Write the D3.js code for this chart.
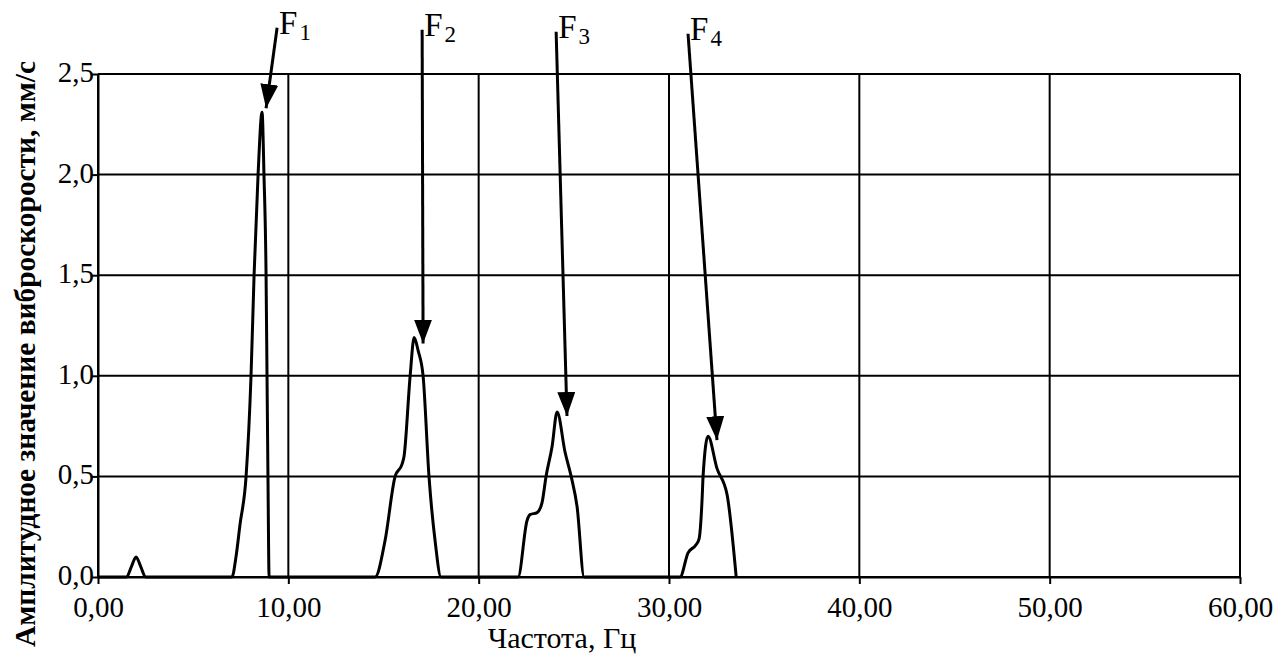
<!DOCTYPE html>
<html>
<head>
<meta charset="utf-8">
<script src="https://cdn.jsdelivr.net/npm/d3@7"></script>
<style>
  body { margin: 0; background: #fff; }
  svg { display: block; }
  text { font-family: "Liberation Serif", "Times New Roman", serif; fill: #000; }
</style>
</head>
<body>
<svg width="1282" height="657"></svg>
<script>
// spectrum (Hz, mm/s)
const freqHz = [0, 1.5, 1.75, 2.0, 2.25, 2.5,
  7.04, 7.25, 7.46, 7.78, 8.04, 8.20, 8.41, 8.62, 8.72, 8.83, 8.88, 8.93, 8.99,
  14.56, 15.08, 15.61, 15.97, 16.08, 16.40, 16.61, 16.82, 17.08, 17.39, 17.71, 18.02,
  22.07, 22.54, 22.70, 23.07, 23.33, 23.54, 23.86, 24.12, 24.54, 24.86, 25.17, 25.54,
  30.58, 31.00, 31.42, 31.58, 31.74, 31.79, 32.05, 32.52, 33.05, 33.53];
const ampMms = [0, 0, 0.05, 0.1, 0.05, 0,
  0, 0.1, 0.26, 0.5, 1.0, 1.5, 2.0, 2.31, 2.0, 1.5, 1.0, 0.5, 0,
  0, 0.18, 0.5, 0.56, 0.6, 1.0, 1.19, 1.125, 1.0, 0.5, 0.18, 0,
  0, 0.28, 0.31, 0.32, 0.37, 0.5, 0.65, 0.82, 0.62, 0.5, 0.35, 0,
  0, 0.12, 0.16, 0.19, 0.39, 0.5, 0.70, 0.54, 0.41, 0];

const xTicks = [0, 10, 20, 30, 40, 50, 60];
const xTickLabels = ["0,00", "10,00", "20,00", "30,00", "40,00", "50,00", "60,00"];
const yTicks = [0, 0.5, 1.0, 1.5, 2.0, 2.5];
const yTickLabels = ["0,0", "0,5", "1,0", "1,5", "2,0", "2,5"];

// peak markers: label, arrow start (above plot) and tip
const peakLabels = ["1", "2", "3", "4"];
const arrowFromHz = [9.41, 17.03, 24.07, 31.0];
const arrowFromV = [2.73, 2.72, 2.71, 2.70];
const arrowToHz = [8.83, 17.08, 24.64, 32.52];
const arrowToV = [2.33, 1.16, 0.80, 0.68];

const svg = d3.select("svg");
const plotL = 98, plotR = 1240, plotT = 74, plotB = 577;

const x = d3.scaleLinear().domain([0, 60]).range([plotL, plotR]);
const y = d3.scaleLinear().domain([0, 2.5]).range([plotB, plotT]);

// grid
svg.append("g").selectAll("line").data(xTicks).enter().append("line")
  .attr("x1", d => x(d)).attr("x2", d => x(d))
  .attr("y1", plotT).attr("y2", plotB)
  .attr("stroke", "#000").attr("stroke-width", 2);
svg.append("g").selectAll("line").data(yTicks).enter().append("line")
  .attr("x1", plotL).attr("x2", plotR)
  .attr("y1", d => y(d)).attr("y2", d => y(d))
  .attr("stroke", "#000").attr("stroke-width", 2);

// axes
const xAxis = svg.append("g").attr("transform", `translate(0,${plotB})`)
  .call(d3.axisBottom(x).tickValues(xTicks).tickSize(7).tickSizeOuter(0)
    .tickFormat((d, i) => xTickLabels[i]));
const yAxis = svg.append("g").attr("transform", `translate(${plotL},0)`)
  .call(d3.axisLeft(y).tickValues(yTicks).tickSize(7).tickSizeOuter(0)
    .tickFormat((d, i) => yTickLabels[i]));
[xAxis, yAxis].forEach(g => {
  g.attr("font-family", null).attr("font-size", null);
  g.select(".domain").attr("stroke", "#000").attr("stroke-width", 2);
  g.selectAll(".tick line").attr("stroke", "#000").attr("stroke-width", 2);
  g.selectAll(".tick text").style("font-size", "29px").attr("fill", "#000");
});
xAxis.selectAll(".tick text").attr("y", 19);
yAxis.selectAll(".tick text").attr("x", -4).attr("dy", "0.26em");

// curve
const pts = freqHz.map((f, i) => [f, ampMms[i]]);
svg.append("path").datum(pts)
  .attr("fill", "none").attr("stroke", "#000").attr("stroke-width", 3)
  .attr("stroke-linejoin", "round")
  .attr("d", d3.line().x(d => x(d[0])).y(d => y(d[1])).curve(d3.curveMonotoneX));

// arrows
svg.append("defs").append("marker")
  .attr("id", "head").attr("markerUnits", "userSpaceOnUse")
  .attr("viewBox", "0 0 24 18").attr("refX", 24).attr("refY", 9)
  .attr("markerWidth", 24).attr("markerHeight", 18).attr("orient", "auto")
  .append("path").attr("d", "M0,0 L24,9 L0,18 Z").attr("fill", "#000");

const ann = svg.append("g");
peakLabels.forEach((lab, i) => {
  const x0 = x(arrowFromHz[i]), y0 = y(arrowFromV[i]);
  ann.append("line")
    .attr("x1", x0).attr("y1", y0)
    .attr("x2", x(arrowToHz[i])).attr("y2", y(arrowToV[i]))
    .attr("stroke", "#000").attr("stroke-width", 3)
    .attr("marker-end", "url(#head)");
  const t = ann.append("text").attr("x", x0 + 2).attr("y", y0 + 6)
    .style("font-size", "33px");
  t.append("tspan").text("F");
  t.append("tspan").attr("dy", 6).attr("dx", 2).style("font-size", "23px").text(lab);
});

// axis titles
svg.append("text")
  .attr("x", 562).attr("y", 648)
  .attr("text-anchor", "middle")
  .style("font-size", "30px")
  .text("Частота, Гц");

svg.append("text")
  .attr("transform", "translate(35,354) rotate(-90)")
  .attr("text-anchor", "middle")
  .style("font-size", "29px").style("font-weight", "bold")
  .attr("textLength", 586).attr("lengthAdjust", "spacingAndGlyphs")
  .text("Амплитудное значение виброскорости, мм/с");
</script>
</body>
</html>
